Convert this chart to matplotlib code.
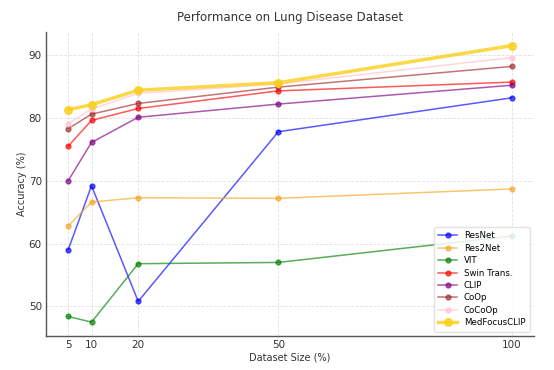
import matplotlib
matplotlib.use("Agg")
import matplotlib.pyplot as plt

# dataset size (%) on the x axis
sizes = [5, 10, 20, 50, 100]

resnet = [59.0, 69.2, 50.8, 77.8, 83.2]
res2net = [62.8, 66.6, 67.3, 67.2, 68.7]
vit = [48.4, 47.5, 56.8, 57.0, 61.2]
swin = [75.5, 79.6, 81.5, 84.3, 85.7]
clip = [70.0, 76.1, 80.1, 82.2, 85.2]
coop = [78.3, 80.6, 82.3, 84.9, 88.2]
cocoop = [79.1, 81.4, 83.9, 85.4, 89.6]
medfocus = [81.3, 82.1, 84.4, 85.6, 91.5]

models = ["ResNet", "Res2Net", "VIT", "Swin Trans.", "CLIP", "CoOp", "CoCoOp", "MedFocusCLIP"]
series = [resnet, res2net, vit, swin, clip, coop, cocoop, medfocus]
colors = ["blue", "#f5a623", "green", "red", "purple", "brown", "pink", "#f9cf1a"]

fig = plt.figure(figsize=(5.54, 3.70), dpi=100)
ax = fig.add_axes([0.083, 0.092, 0.881, 0.822])

for name, vals, col in zip(models, series, colors):
    if name == "MedFocusCLIP":
        ax.plot(sizes, vals, marker="o", color=col, label=name,
                linewidth=2.5, markersize=5.5, alpha=0.8)
    else:
        ax.plot(sizes, vals, marker="o", color=col, label=name,
                linewidth=1.1, markersize=3.5, alpha=0.65)

ax.set_title("Performance on Lung Disease Dataset", fontsize=8.5, color="#333333", pad=8)
ax.set_xlabel("Dataset Size (%)", fontsize=7, color="#333333", labelpad=2)
ax.set_ylabel("Accuracy (%)", fontsize=7, color="#333333", labelpad=1)
ax.set_xticks(sizes)
ax.set_yticks([50, 60, 70, 80, 90])
ax.tick_params(labelsize=7.5, colors="#333333", length=0, pad=3)
ax.grid(True, linestyle="--", linewidth=0.6, color="#e0e0e0")
for s in ["top", "right"]:
    ax.spines[s].set_visible(False)
for s in ["left", "bottom"]:
    ax.spines[s].set_color("#555555")
    ax.spines[s].set_linewidth(1.0)

ax.legend(loc="lower right", fontsize=6.2, frameon=True, framealpha=0.85,
          edgecolor="#dddddd", borderpad=0.5, labelspacing=0.4, handlelength=2.2)

fig.savefig("out.png", dpi=100)
